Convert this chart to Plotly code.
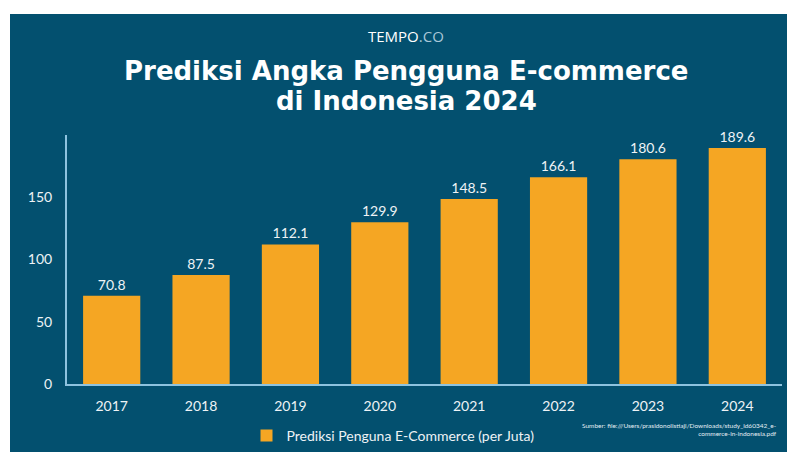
import plotly.graph_objects as go

years = ["2017", "2018", "2019", "2020", "2021", "2022", "2023", "2024"]
users = [70.8, 87.5, 112.1, 129.9, 148.5, 166.1, 180.6, 189.6]
series_name = "Prediksi Penguna E-Commerce (per Juta)"
y_ticks = [0, 50, 100, 150]

W, H = 787, 452
L, R, T, B = 67, 5, 135, 68
pw, ph = W - L - R, H - T - B

def px(x):
    return (x - L) / pw

def py(y):
    return (H - B - y) / ph

BG = "#03506F"
ORANGE = "#F5A623"
AXIS = "#8EC3DF"
TXT = "#EEF3F6"

fig = go.Figure()
fig.add_trace(go.Bar(
    x=years, y=users, name=series_name,
    marker=dict(color=ORANGE, line=dict(width=0)),
    text=[f"{v:.1f}" for v in users], textposition="outside",
    textfont=dict(family="Lato", size=14, color=TXT),
    cliponaxis=False,
))

fig.update_layout(
    width=W, height=H,
    margin=dict(l=L, r=R, t=T, b=B),
    paper_bgcolor=BG, plot_bgcolor=BG,
    bargap=0.36,
    showlegend=True,
    legend=dict(orientation="h", xref="container", yref="container",
                x=393 / W, xanchor="center", y=1 - 436 / H, yanchor="middle",
                font=dict(family="Lato", size=14, color=TXT), bgcolor="rgba(0,0,0,0)",
                itemsizing="constant"),
    font=dict(family="Lato", color=TXT),
    xaxis=dict(range=[-0.5, 7.5], showline=True, linecolor=AXIS, linewidth=2,
               showgrid=False, ticks="", tickfont=dict(family="Lato", size=14, color=TXT),
               ticklabelstandoff=8, fixedrange=True),
    yaxis=dict(range=[0, 200], tickvals=y_ticks, showline=True, linecolor=AXIS, linewidth=2,
               showgrid=False, zeroline=False, ticks="",
               tickfont=dict(family="Lato", size=14, color=TXT),
               ticklabelstandoff=10, fixedrange=True),
    shapes=[
        dict(type="rect", xref="paper", yref="paper", x0=px(-5), x1=px(10), y0=py(-5), y1=py(H + 5),
             fillcolor="white", line=dict(width=0), layer="above"),
        dict(type="rect", xref="paper", yref="paper", x0=px(-5), x1=px(W + 5), y0=py(14), y1=py(-5),
             fillcolor="white", line=dict(width=0), layer="above"),
    ],
    annotations=[
        dict(text="TEMPO<span style='color:#A9C7D8'>.CO</span>", xref="paper", yref="paper",
             x=px(406), y=py(36), xanchor="center", yanchor="middle", showarrow=False,
             font=dict(family="Open Sans", size=15, color="white")),
        dict(text="<b>Prediksi Angka Pengguna E-commerce</b>", xref="paper", yref="paper",
             x=px(406), y=py(71), xanchor="center", yanchor="middle", showarrow=False,
             font=dict(family="DejaVu Sans", size=26, color="white")),
        dict(text="<b>di Indonesia 2024</b>", xref="paper", yref="paper",
             x=px(406), y=py(101), xanchor="center", yanchor="middle", showarrow=False,
             font=dict(family="DejaVu Sans", size=26, color="white")),
        dict(text="Sumber: file:///Users/prasidonolistiaji/Downloads/study_id60342_e-<br>commerce-in-indonesia.pdf",
             xref="paper", yref="paper", x=px(779), y=py(429), xanchor="right", yanchor="middle",
             showarrow=False, align="right", font=dict(family="Lato", size=6.5, color="#E4EEF4")),
    ],
)

fig.write_html("out.html")
